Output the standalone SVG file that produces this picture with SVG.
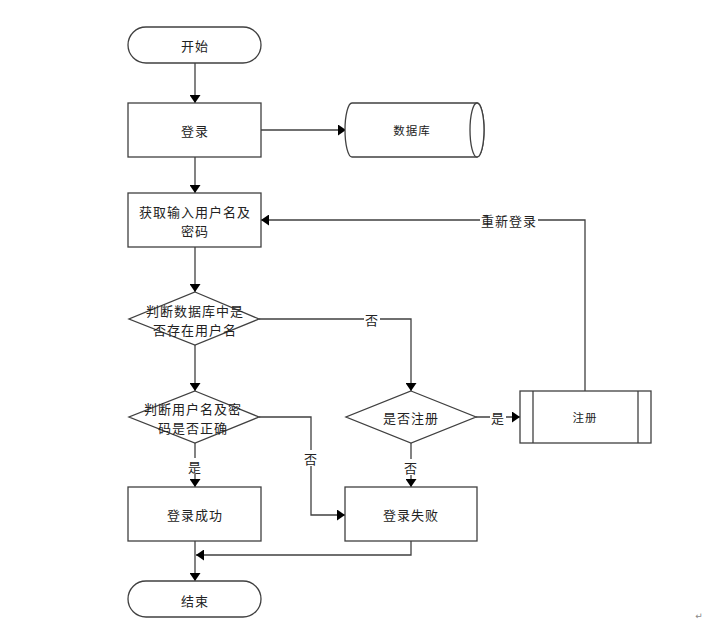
<svg xmlns="http://www.w3.org/2000/svg" width="726" height="628" viewBox="0 0 726 628">
<style>
.s{fill:#fff;stroke:#404040;stroke-width:1.3}
.t{font-family:"Noto Sans CJK SC","Liberation Sans",sans-serif;font-size:13px;letter-spacing:1px;fill:#222;text-anchor:middle;dominant-baseline:central}
.sm{font-size:11.5px}
.c{fill:none;stroke:#404040;stroke-width:1.3}
.lb{fill:#fff;stroke:none}
</style>
<defs>
<marker id="a" viewBox="0 0 10 10" refX="10" refY="5" markerWidth="8" markerHeight="11" markerUnits="userSpaceOnUse" orient="auto" preserveAspectRatio="none">
<path d="M0,0 L10,5 L0,10 Z" fill="#000"/>
</marker>
</defs>
<rect width="726" height="628" fill="#fff"/>
<g id="connectors">
<path class="c" d="M195,63 V103" marker-end="url(#a)"/>
<path class="c" d="M261,130 H346" marker-end="url(#a)"/>
<path class="c" d="M195,157 V193" marker-end="url(#a)"/>
<path class="c" d="M195,247 V292" marker-end="url(#a)"/>
<path class="c" d="M195,345 V391" marker-end="url(#a)"/>
<path class="c" d="M259,319 H411 V391" marker-end="url(#a)"/>
<path class="c" d="M585,391 V220 H261" marker-end="url(#a)"/>
<path class="c" d="M476,417 H520" marker-end="url(#a)"/>
<path class="c" d="M411,443 V487" marker-end="url(#a)"/>
<path class="c" d="M195,443 V487" marker-end="url(#a)"/>
<path class="c" d="M259,417 H311 V515 H345" marker-end="url(#a)"/>
<path class="c" d="M195,541 V581" marker-end="url(#a)"/>
<path class="c" d="M411,541 V555 H196" marker-end="url(#a)"/>
<rect class="lb" x="480" y="212" width="58" height="16"/>
<text class="t" x="509" y="220">重新登录</text>
<rect class="lb" x="364" y="311" width="16" height="16"/>
<text class="t" x="372" y="319">否</text>
<rect class="lb" x="490" y="409" width="16" height="16"/>
<text class="t" x="498" y="417">是</text>
<rect class="lb" x="403" y="459" width="16" height="16"/>
<text class="t" x="411" y="467">否</text>
<rect class="lb" x="187" y="458" width="16" height="16"/>
<text class="t" x="195" y="466">是</text>
<rect class="lb" x="303" y="450" width="16" height="16"/>
<text class="t" x="311" y="458">否</text>
</g>
<g id="start">
<rect class="s" x="128" y="27" width="133" height="36" rx="18"/>
<text class="t" x="195" y="45">开始</text>
</g>
<g id="login">
<rect class="s" x="128" y="103" width="133" height="54"/>
<text class="t" x="195" y="130">登录</text>
</g>
<g id="db">
<path class="s" d="M352,103 H477 A7,27 0 0 1 477,157 H352 A7,27 0 0 1 352,103 Z"/>
<ellipse class="s" cx="477" cy="130" rx="7" ry="27" fill="none"/>
<text class="t sm" x="412" y="130">数据库</text>
</g>
<g id="input">
<rect class="s" x="128" y="193" width="133" height="54"/>
<text class="t" x="195" y="211">获取输入用户名及</text>
<text class="t" x="195" y="230">密码</text>
</g>
<g id="check-user">
<polygon class="s" points="195,292 259,319 195,345 129,319"/>
<text class="t" x="195" y="310">判断数据库中是</text>
<text class="t" x="195" y="329">否存在用户名</text>
</g>
<g id="check-pwd">
<polygon class="s" points="195,391 259,417 195,443 129,417"/>
<text class="t" x="193" y="408">判断用户名及密</text>
<text class="t" x="193" y="427">码是否正确</text>
</g>
<g id="is-reg">
<polygon class="s" points="411,391 476,417 411,443 346,417"/>
<text class="t" x="411" y="417">是否注册</text>
</g>
<g id="register">
<rect class="s" x="520" y="391" width="131" height="52"/>
<line class="c" x1="533" y1="391" x2="533" y2="443"/>
<line class="c" x1="638" y1="391" x2="638" y2="443"/>
<text class="t sm" x="585" y="417">注册</text>
</g>
<g id="success">
<rect class="s" x="128" y="487" width="133" height="54"/>
<text class="t" x="195" y="514">登录成功</text>
</g>
<g id="fail">
<rect class="s" x="345" y="487" width="132" height="54"/>
<text class="t" x="411" y="514">登录失败</text>
</g>
<g id="end">
<rect class="s" x="128" y="581" width="133" height="36" rx="18"/>
<text class="t" x="195" y="600">结束</text>
</g>
<text x="699" y="619" font-family="DejaVu Sans,sans-serif" font-size="9" fill="#888" text-anchor="middle">↵</text>
</svg>
